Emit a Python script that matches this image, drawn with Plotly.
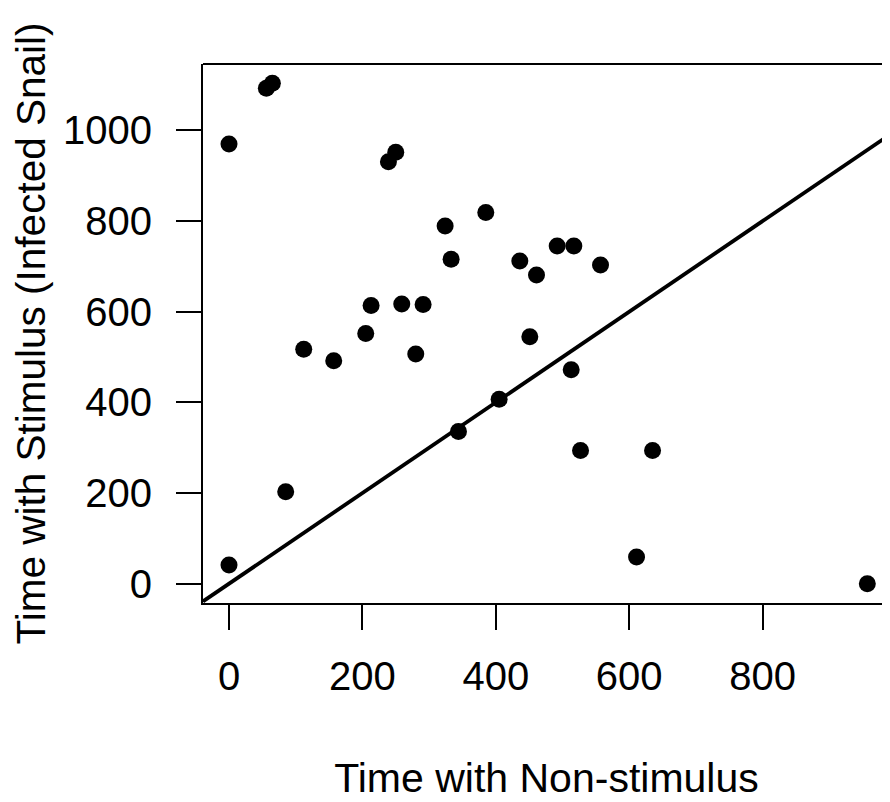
import plotly.graph_objects as go

# Data
non_stimulus = [0, 56, 65, 239, 250, 385, 324, 333, 213, 259, 291, 205, 112, 157, 280,
                344, 85, 0, 492, 517, 436, 461, 557, 451, 513, 405, 527, 635, 611, 957]
stimulus = [970, 1093, 1104, 931, 952, 819, 789, 716, 614, 617, 616, 552, 517, 492, 507,
            336, 203, 41, 745, 745, 712, 681, 703, 545, 472, 407, 294, 294, 59, 0]
tick_vals = [0, 200, 400, 600, 800, 1000]
x_tick_vals = [0, 200, 400, 600, 800]

x_range = [-39, 991]
y_range = [-42.6, 1146.6]

FONT = "Liberation Sans, Arial, Helvetica, sans-serif"

fig = go.Figure()

# identity line y = x (abline(0, 1)), spanning the x axis range
fig.add_trace(go.Scatter(
    x=x_range, y=x_range, mode="lines",
    line=dict(color="black", width=3.8),
    hoverinfo="skip", showlegend=False,
))

fig.add_trace(go.Scatter(
    x=non_stimulus, y=stimulus, mode="markers",
    marker=dict(color="black", size=17, line=dict(width=0)),
    showlegend=False,
))

fig.update_layout(
    width=882, height=794,
    margin=dict(l=195, r=0, t=56, b=199),
    paper_bgcolor="white", plot_bgcolor="white",
    font=dict(family=FONT, color="black", size=40),
    shapes=[dict(type="line", xref="paper", yref="paper", x0=0, x1=1.02, y0=1, y1=1,
                 line=dict(color="black", width=2.2))],
)

fig.update_xaxes(
    range=x_range, autorange=False,
    tickvals=x_tick_vals, ticktext=[str(v) for v in x_tick_vals],
    ticks="outside", ticklen=25, tickwidth=2, tickcolor="black",
    showline=True, linecolor="black", linewidth=2.2, mirror=False,
    showgrid=False, zeroline=False,
    tickfont=dict(size=40, family=FONT, color="black"),
    ticklabelstandoff=12,
    title=dict(text="Time with Non-stimulus", font=dict(size=41, family=FONT, color="black"),
               standoff=66),
    automargin=False,
)
fig.update_yaxes(
    range=y_range, autorange=False,
    tickvals=tick_vals, ticktext=[str(v) for v in tick_vals],
    ticks="outside", ticklen=25, tickwidth=2, tickcolor="black",
    showline=True, linecolor="black", linewidth=2.2, mirror=False,
    showgrid=False, zeroline=False,
    tickfont=dict(size=40, family=FONT, color="black"),
    ticklabelstandoff=16,
    title=dict(text="Time with Stimulus (Infected Snail)", font=dict(size=40.5, family=FONT, color="black"),
               standoff=20),
    automargin=False,
)

fig.write_html("out.html")
